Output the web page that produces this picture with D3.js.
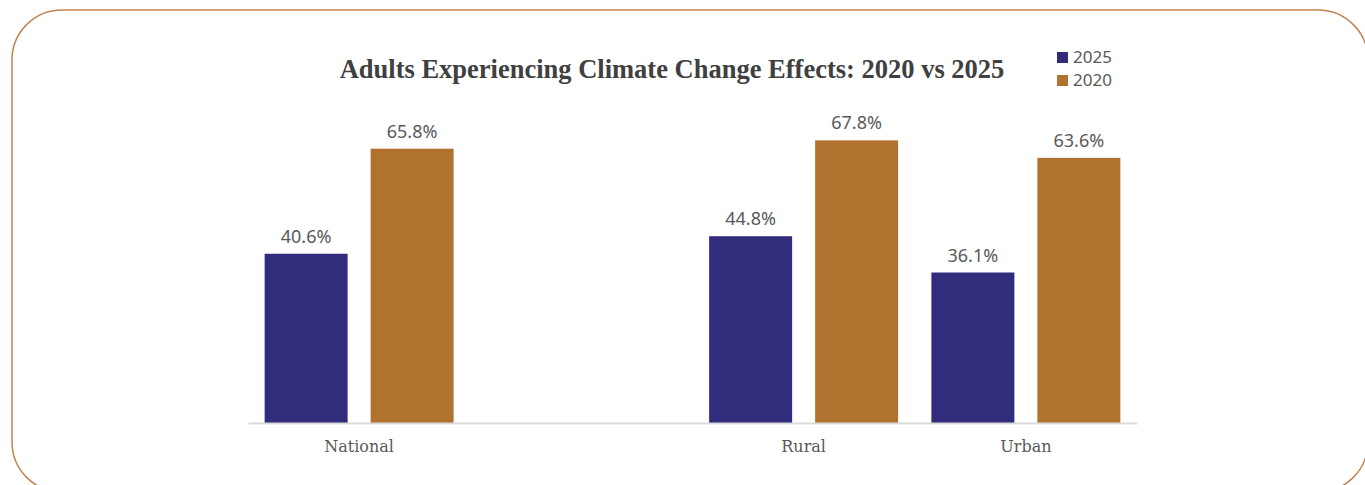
<!DOCTYPE html>
<html>
<head>
<meta charset="utf-8">
<script src="https://cdn.jsdelivr.net/npm/d3@7"></script>
<style>
  html, body { margin: 0; padding: 0; background: #ffffff; }
  svg { display: block; }
</style>
</head>
<body>
<svg id="chart" width="1365" height="485"></svg>
<script>
// Share of adults who experienced climate change effects, by area
const categories = ["National", "", "Rural", "Urban"];
const seriesNames = ["2025", "2020"];
const values2025 = [40.6, null, 44.8, 36.1];
const values2020 = [65.8, null, 67.8, 63.6];
const seriesColors = ["#312c7c", "#b1712f"];

const svg = d3.select("#chart");

// Outer rounded frame
svg.append("rect")
  .attr("x", 12).attr("y", 10)
  .attr("width", 1356).attr("height", 482)
  .attr("rx", 50).attr("ry", 50)
  .attr("fill", "#ffffff")
  .attr("stroke", "#c28552")
  .attr("stroke-width", 1.5);

const plot = { left: 248, right: 1137, top: 89.5, bottom: 423 };

const x = d3.scaleBand()
  .domain(d3.range(categories.length))
  .range([plot.left, plot.right])
  .paddingInner(0).paddingOuter(0);

const inner = d3.scaleBand()
  .domain(seriesNames)
  .range([0, x.bandwidth()])
  .paddingInner(0.217)
  .paddingOuter(0.157);

const y = d3.scaleLinear()
  .domain([0, 80])
  .range([plot.bottom, plot.top]);

const rows = categories.map((c, i) => ({
  index: i,
  category: c,
  values: [values2025[i], values2020[i]]
}));

const groups = svg.append("g").selectAll("g")
  .data(rows)
  .join("g")
  .attr("transform", d => `translate(${x(d.index)},0)`);

const bars = groups.selectAll("g.bar")
  .data(d => d.values.map((v, k) => ({ series: seriesNames[k], k, v })).filter(e => e.v !== null))
  .join("g")
  .attr("class", "bar");

bars.append("rect")
  .attr("x", d => inner(d.series))
  .attr("y", d => y(d.v))
  .attr("width", inner.bandwidth())
  .attr("height", d => y(0) - y(d.v))
  .attr("fill", d => seriesColors[d.k]);

bars.append("text")
  .attr("x", d => inner(d.series) + inner.bandwidth() / 2)
  .attr("y", d => y(d.v) - 11)
  .attr("text-anchor", "middle")
  .attr("font-family", "'Noto Sans', 'Open Sans', sans-serif")
  .attr("font-size", 18)
  .attr("fill", "#595959")
  .text(d => d.v.toFixed(1) + "%");

// Category axis
const xAxis = d3.axisBottom(x)
  .tickSize(0)
  .tickPadding(18)
  .tickFormat(i => categories[i]);

const axisG = svg.append("g")
  .attr("transform", `translate(0,${plot.bottom})`)
  .call(xAxis);
axisG.select(".domain")
  .attr("stroke", "#d9d9d9")
  .attr("stroke-width", 2);
axisG.selectAll("text")
  .attr("font-family", "'DejaVu Serif', serif")
  .attr("font-size", 16)
  .attr("fill", "#595959");

// Title
svg.append("text")
  .attr("x", 672)
  .attr("y", 78)
  .attr("text-anchor", "middle")
  .attr("font-family", "'Liberation Serif', 'Times New Roman', serif")
  .attr("font-weight", "bold")
  .attr("font-size", 26.5)
  .attr("fill", "#404040")
  .text("Adults Experiencing Climate Change Effects: 2020 vs 2025");

// Legend
const legend = svg.append("g")
  .selectAll("g")
  .data(seriesNames)
  .join("g")
  .attr("transform", (d, i) => `translate(1057,${52 + i * 23})`);
legend.append("rect")
  .attr("width", 11).attr("height", 11)
  .attr("fill", (d, i) => seriesColors[i]);
legend.append("text")
  .attr("x", 16).attr("y", 5.5)
  .attr("dy", "0.35em")
  .attr("font-family", "'Noto Sans', 'Open Sans', sans-serif")
  .attr("font-size", 17)
  .attr("fill", "#595959")
  .text(d => d);
</script>
</body>
</html>
